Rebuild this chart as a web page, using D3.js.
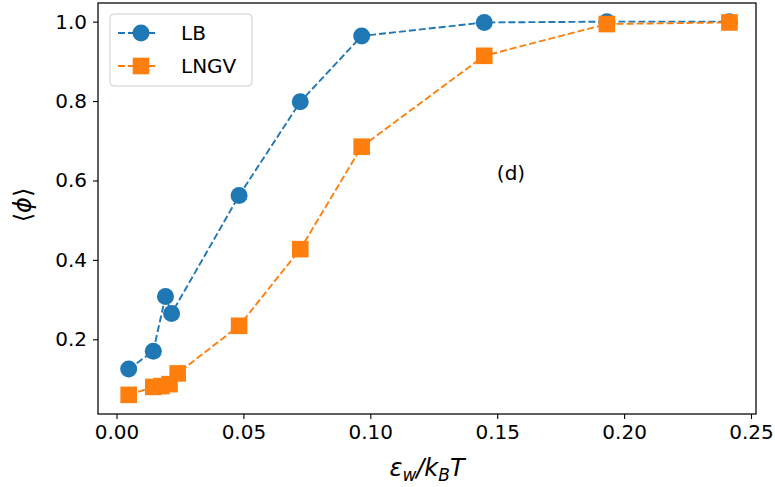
<!DOCTYPE html>
<html><head><meta charset="utf-8">
<script src="https://cdn.jsdelivr.net/npm/d3@7"></script>
<style>body{margin:0;background:#fff;} text{font-family:"DejaVu Sans",sans-serif;}</style>
</head><body>
<svg id="c" width="775" height="487"></svg>
<script>
const lbX = [0.0048, 0.0145, 0.0193, 0.0217, 0.0483, 0.0724, 0.0966, 0.1449, 0.1932, 0.2415];
const lbY = [0.125, 0.170, 0.308, 0.265, 0.562, 0.798, 0.964, 0.998, 1.0, 1.0];
const lngvX = [0.0048, 0.0145, 0.0177, 0.0209, 0.0241, 0.0483, 0.0724, 0.0966, 0.1449, 0.1932, 0.2415];
const lngvY = [0.060, 0.080, 0.082, 0.087, 0.114, 0.234, 0.427, 0.685, 0.914, 0.994, 0.998];
const xTicks = [0.00, 0.05, 0.10, 0.15, 0.20, 0.25];
const yTicks = [0.2, 0.4, 0.6, 0.8, 1.0];
const seriesNames = ["LB", "LNGV"];
const colors = ["#1f77b4", "#ff7f0e"];

const L = 98, R = 756, T = 3, B = 414;
const svg = d3.select("#c");
const x = d3.scaleLinear().domain([-0.00729, 0.25197]).range([L, R]);
const y = d3.scaleLinear().domain([0.0118, 1.047]).range([B, T]);

const gx = svg.append("g").attr("transform", `translate(0,${B})`)
  .call(d3.axisBottom(x).tickValues(xTicks).tickFormat(d3.format(".2f")).tickSize(5).tickPadding(6));
const gy = svg.append("g").attr("transform", `translate(${L},0)`)
  .call(d3.axisLeft(y).tickValues(yTicks).tickFormat(d3.format(".1f")).tickSize(5).tickPadding(6));
[gx, gy].forEach(g => {
  g.select(".domain").remove();
  g.selectAll(".tick line").attr("stroke", "#000").attr("stroke-width", 1.1);
  g.selectAll(".tick text").attr("fill", "#000").style("font-size", "20px").style("font-family", "DejaVu Sans");
});

const data = [
  lbX.map((v, i) => [v, lbY[i]]),
  lngvX.map((v, i) => [v, lngvY[i]])
];
const line = d3.line().x(d => x(d[0])).y(d => y(d[1]));
data.forEach((pts, k) => {
  svg.append("path").attr("d", line(pts)).attr("fill", "none")
    .attr("stroke", colors[k]).attr("stroke-width", 1.9).attr("stroke-dasharray", "7,3");
});
// markers
svg.append("g").selectAll("circle").data(data[0]).join("circle")
  .attr("cx", d => x(d[0])).attr("cy", d => y(d[1])).attr("r", 8.5)
  .attr("fill", colors[0]);
svg.append("g").selectAll("rect").data(data[1]).join("rect")
  .attr("x", d => x(d[0]) - 8.3).attr("y", d => y(d[1]) - 8.3)
  .attr("width", 16.6).attr("height", 16.6).attr("fill", colors[1]);

// frame
svg.append("rect").attr("x", L).attr("y", T).attr("width", R - L).attr("height", B - T)
  .attr("fill", "none").attr("stroke", "#000").attr("stroke-width", 1.25);

// legend
const lg = svg.append("g");
lg.append("rect").attr("x", 110).attr("y", 14).attr("width", 142).attr("height", 72)
  .attr("rx", 4).attr("fill", "#fff").attr("fill-opacity", 0.8).attr("stroke", "#ccc").attr("stroke-width", 1);
seriesNames.forEach((n, i) => {
  const yy = 33 + i * 33;
  lg.append("line").attr("x1", 118).attr("x2", 158).attr("y1", yy).attr("y2", yy)
    .attr("stroke", colors[i]).attr("stroke-width", 1.9).attr("stroke-dasharray", "7,3");
  if (i === 0) lg.append("circle").attr("cx", 141).attr("cy", yy).attr("r", 8.5).attr("fill", colors[i]);
  else lg.append("rect").attr("x", 141 - 8.3).attr("y", yy - 8.3).attr("width", 16.6).attr("height", 16.6).attr("fill", colors[i]);
  lg.append("text").attr("x", 181).attr("y", yy + 7).text(n).style("font-size", "20px");
});

// annotation
svg.append("text").attr("x", 511).attr("y", 180).attr("text-anchor", "middle").style("font-size", "20px").text("(d)");

// axis labels
const xl = svg.append("text").attr("x", 427).attr("y", 476).attr("text-anchor", "middle").style("font-size", "24px");
xl.append("tspan").attr("font-style", "italic").text("ε");
xl.append("tspan").attr("font-style", "italic").attr("dy", 5).style("font-size", "17px").text("w");
xl.append("tspan").attr("font-style", "italic").attr("dy", -5).text("/k");
xl.append("tspan").attr("font-style", "italic").attr("dy", 5).style("font-size", "17px").text("B");
xl.append("tspan").attr("font-style", "italic").attr("dy", -5).text("T");

const yl = svg.append("text").attr("transform", "translate(31,205) rotate(-90)").attr("text-anchor", "middle").style("font-size", "24px");
yl.append("tspan").text("⟨");
yl.append("tspan").attr("font-style", "italic").text("ϕ");
yl.append("tspan").text("⟩");
</script>
</body></html>
